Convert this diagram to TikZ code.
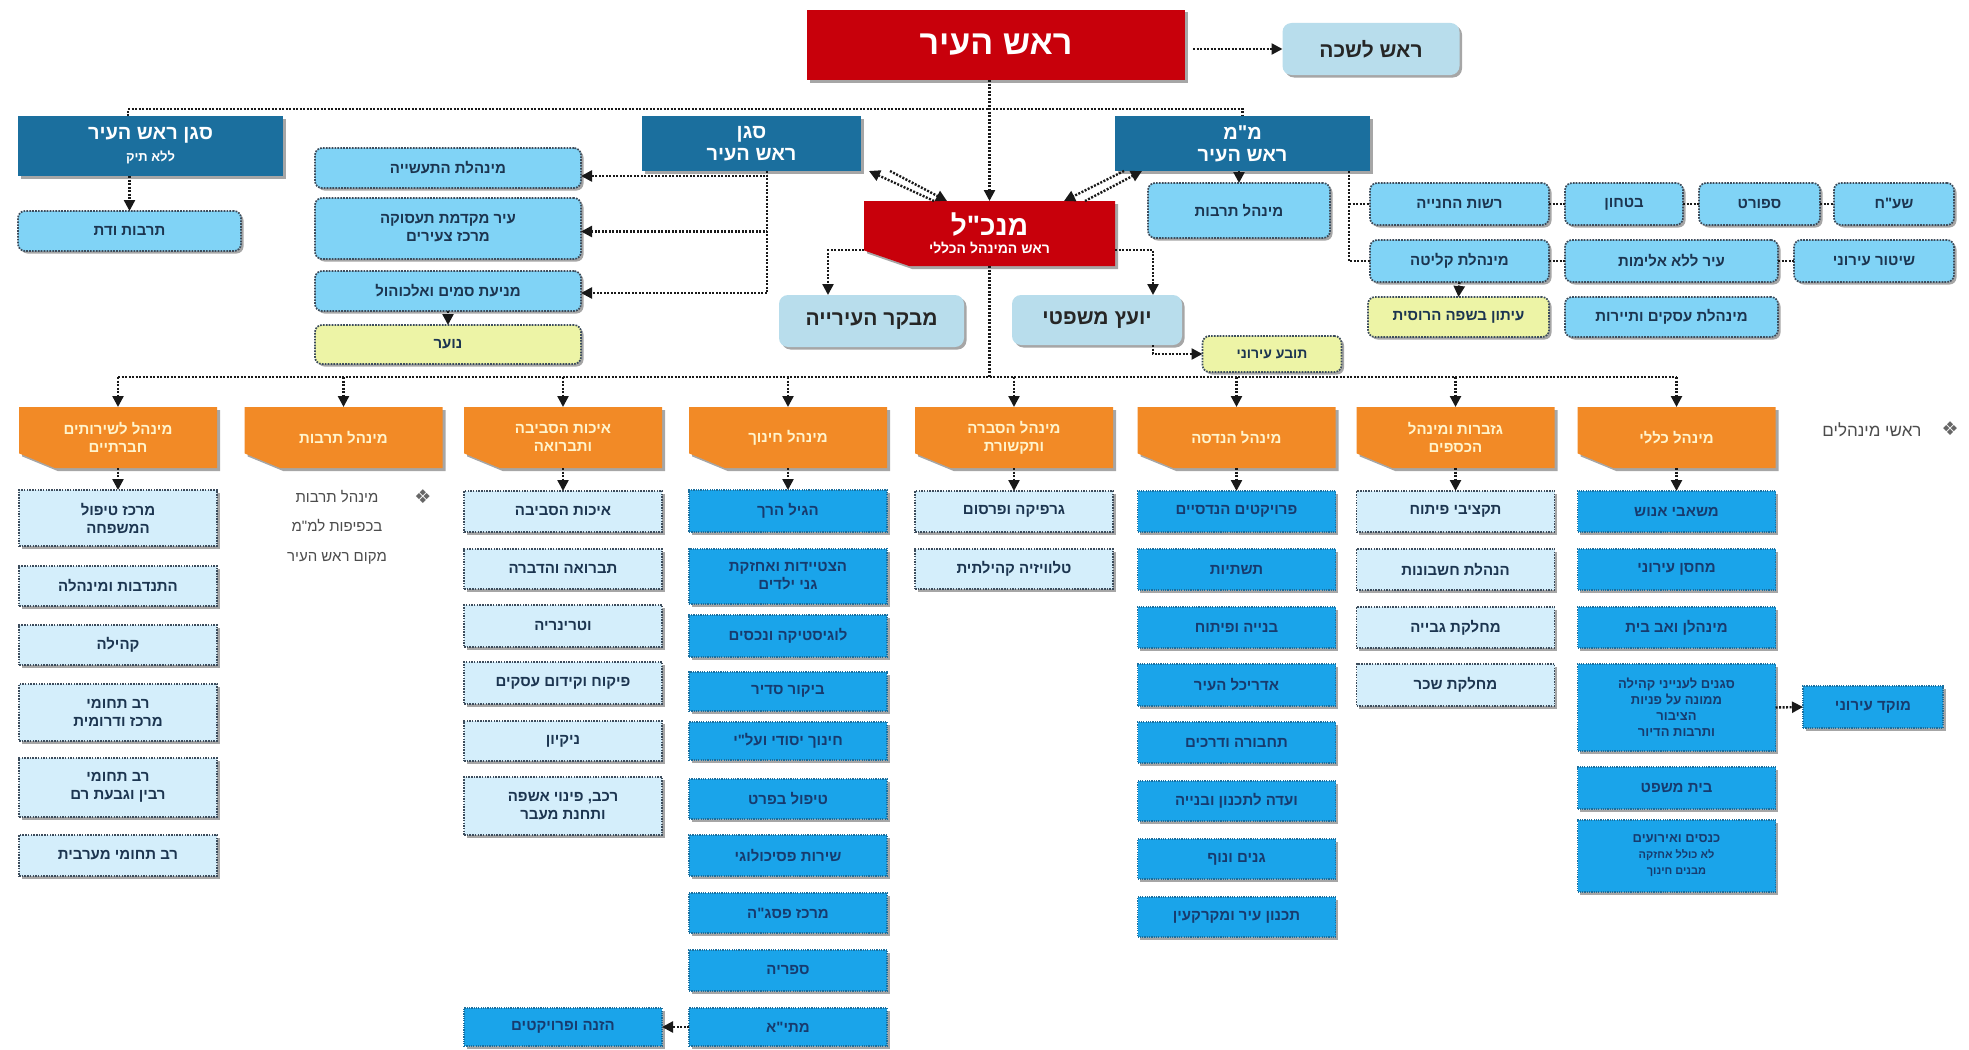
\documentclass[tikz,border=0pt]{standalone}
\usepackage{fontspec}
\newfontfamily\hebfont[Script=Hebrew]{Liberation Sans}
\newfontfamily\symfont{DejaVu Sans}
\TeXXeTstate=1
\usetikzlibrary{arrows.meta,shadows}
\definecolor{cRed}{HTML}{C8000B}
\definecolor{cDk}{HTML}{1B6F9E}
\definecolor{cSky}{HTML}{80D3F6}
\definecolor{cPale}{HTML}{D4EEFB}
\definecolor{cBright}{HTML}{1AA4EA}
\definecolor{cGB}{HTML}{B8DDEC}
\definecolor{cYel}{HTML}{EDF4A6}
\definecolor{cOr}{HTML}{F28A26}
\definecolor{cText}{HTML}{1C3550}
\definecolor{cNavy}{HTML}{173B6E}
\definecolor{cBorder}{HTML}{3C4C5C}
\definecolor{cCream}{HTML}{FFF4CC}
\newcommand\hb[1]{\beginR #1\endR}
\newcommand\fs[2]{\fontsize{#1}{#2}\selectfont}
\tikzset{
 base/.style={align=center, inner sep=2pt, outer sep=0pt, font=\hebfont\bfseries\fs{15}{18}},
 shd/.style={drop shadow={shadow xshift=2.5pt,shadow yshift=-2.5pt,fill=black,opacity=0.35}},
 sky/.style={base, shd, fill=cSky, draw=cBorder, line width=1.7pt, dash pattern=on 1.7pt off 1.2pt, rounded corners=7pt, text=cText},
 ylw/.style={sky, fill=cYel},
 pale/.style={base, shd, fill=cPale, draw=cBorder, line width=1.5pt, dash pattern=on 1.5pt off 1.2pt, text=cText},
 bright/.style={base, shd, fill=cBright, draw=cDk, line width=1.2pt, dash pattern=on 1.2pt off 1.1pt, text=cNavy},
 gb/.style={base, shd, fill=cGB, rounded corners=9pt, text=black!85, font=\hebfont\bfseries\fs{21}{25}},
 dkb/.style={base, shd, fill=cDk, text=white, font=\hebfont\bfseries\fs{20}{22}},
 redt/.style={base, text=white},
 ort/.style={base, text=cCream},
 dl/.style={line width=2.4pt, dash pattern=on 2pt off 1.5pt, draw=black!90},
 arr/.style={dl, -{Triangle[length=11pt,width=11pt]}},
 notetxt/.style={align=center, font=\hebfont\fs{15}{29.5}, text=black!70},
 bul/.style={font=\symfont\fs{19}{20}, text=black!60},
}
% name, cx, cy, w, h, fill, text style, text
\newcommand\cutbox[8]{%
 \fill[black,opacity=0.35] ({#2-#4/2+3},{#3-#5/2+3}) -- ({#2+#4/2+3},{#3-#5/2+3}) -- ({#2+#4/2+3},{#3+#5/2+3}) -- ({#2-#4/2+0.18*#4+3},{#3+#5/2+3}) -- ({#2-#4/2+3},{#3+#5/2-0.24*#5+3}) -- cycle;
 \fill[#6] ({#2-#4/2},{#3-#5/2}) -- ({#2+#4/2},{#3-#5/2}) -- ({#2+#4/2},{#3+#5/2}) -- ({#2-#4/2+0.18*#4},{#3+#5/2}) -- ({#2-#4/2},{#3+#5/2-0.24*#5}) -- cycle;
 \node[#7, minimum width=#4pt, minimum height=#5pt] (#1) at (#2,#3) {#8};}
% style, name, cx, top, bottom, text
\newcommand\subb[6]{\node[#1, minimum width=198pt, minimum height={#5pt-#4pt}] (#2) at (#3,{(#4+#5)/2}) {#6};}
\begin{document}
\begin{tikzpicture}[x=1pt,y=-1pt]
\fill[white] (0,0) rectangle (1969,1049);
\useasboundingbox (0,0) rectangle (1969,1049);

% ---------- top level ----------
\node[redt, shd, fill=cRed, minimum width=378pt, minimum height=70pt, font=\hebfont\bfseries\fs{34}{38}] (mayor) at (996,45) {\hb{ראש העיר}};
\node[gb, minimum width=177pt, minimum height=52pt] (lishka) at (1371,49) {\hb{ראש לשכה}};
\draw[arr] ([xshift=8pt]mayor.east |- lishka.west) -- (lishka.west);

\node[dkb, minimum width=265pt, minimum height=60pt] (sganL) at (150.5,146) {{\fs{20}{22}\hb{סגן ראש העיר}}\\{\fs{13}{16}\hb{ללא תיק}}};
\node[dkb, minimum width=219pt, minimum height=55pt] (sganM) at (751.5,143.5) {\hb{סגן}\\\hb{ראש העיר}};
\node[dkb, minimum width=255pt, minimum height=55pt] (mm) at (1242.5,143.5) {\hb{מ"מ}\\\hb{ראש העיר}};

\cutbox{mankal}{989.5}{233.5}{251}{65}{cRed}{redt}{{\fs{28}{30}\hb{מנכ"ל}}\\{\fs{14}{17}\hb{ראש המינהל הכללי}}}

\coordinate (tb) at (0,109);
\draw[dl] ([xshift=-22.5pt]sganL.north) -- ([xshift=-22.5pt]sganL.north |- tb) -- (mm.north |- tb) -- (mm.north);
\draw[arr] (mayor.south -| mankal.north) -- (mankal.north);

% left deputy
\node[sky, minimum width=223pt, minimum height=40pt] (tdat) at (129.5,231) {\hb{תרבות ודת}};
\draw[arr] (sganL.south -| tdat.north) -- (tdat.north);

% middle deputy column
\node[sky, minimum width=266pt, minimum height=40pt] (ind) at (448,168) {\hb{מינהלת התעשייה}};
\node[sky, minimum width=266pt, minimum height=61pt] (emp) at (448,228.5) {\hb{עיר מקדמת תעסוקה}\\\hb{מרכז צעירים}};
\node[sky, minimum width=266pt, minimum height=40pt] (drugs) at (448,291) {\hb{מניעת סמים ואלכוהול}};
\node[ylw, minimum width=266pt, minimum height=39pt] (youth) at (448,344.5) {\hb{נוער}};
\coordinate (sgv) at (767,171);
\draw[arr] (sgv) |- ([yshift=-8pt]ind.east);
\draw[arr] (sgv) |- ([yshift=-3pt]emp.east);
\draw[arr] (sgv) |- ([yshift=-2pt]drugs.east);
\draw[arr] (drugs.south) -- (youth.north);

% diagonal arrows
\coordinate (s1) at (934,201); \coordinate (s2) at (869,171);
\coordinate (s3) at (890,171); \coordinate (s4) at (947,201);
\draw[arr] (s1) -- (s2); \draw[arr] (s3) -- (s4);
\coordinate (m1) at (1085,201); \coordinate (m2) at (1142,171);
\coordinate (m3) at (1124,171); \coordinate (m4) at (1064,201);
\draw[arr] (m1) -- (m2); \draw[arr] (m3) -- (m4);

% mm side
\node[sky, minimum width=182pt, minimum height=55pt] (mtarbut) at (1239,210.5) {\hb{מינהל תרבות}};
\draw[arr] (mm.south -| mtarbut.north) -- (mtarbut.north);

\node[sky, minimum width=179pt, minimum height=42pt] (reshut) at (1459.5,204) {\hb{רשות החנייה}};
\node[sky, minimum width=118pt, minimum height=42pt] (bitachon) at (1624,204) {\hb{בטחון}};
\node[sky, minimum width=121pt, minimum height=42pt] (sport) at (1759.5,204) {\hb{ספורט}};
\node[sky, minimum width=120pt, minimum height=42pt] (shaach) at (1894,204) {\hb{שע"ח}};
\node[sky, minimum width=179pt, minimum height=42pt] (klita) at (1459.5,261) {\hb{מינהלת קליטה}};
\node[sky, minimum width=213pt, minimum height=42pt] (alimut) at (1671.5,261) {\hb{עיר ללא אלימות}};
\node[sky, minimum width=160pt, minimum height=42pt] (shitur) at (1874,261) {\hb{שיטור עירוני}};
\node[ylw, minimum width=181pt, minimum height=40pt] (iton) at (1458.5,317) {\hb{עיתון בשפה הרוסית}};
\node[sky, minimum width=213pt, minimum height=40pt] (asakim) at (1671.5,317) {\hb{מינהלת עסקים ותיירות}};
\coordinate (mmv) at (1349,171);
\draw[dl] (mmv) |- (klita.west);
\draw[dl] (mmv |- reshut.west) -- (reshut.west);
\draw[dl] (reshut.east) -- (bitachon.west);
\draw[dl] (bitachon.east) -- (sport.west);
\draw[dl] (sport.east) -- (shaach.west);
\draw[dl] (klita.east) -- (alimut.west);
\draw[dl] (alimut.east) -- (shitur.west);
\draw[arr] (klita.south) -- (iton.north);

% auditor, legal
\node[gb, minimum width=185pt, minimum height=52pt] (mevaker) at (871.5,321) {\hb{מבקר העירייה}};
\node[gb, minimum width=170pt, minimum height=50pt] (yoetz) at (1097,320) {\hb{יועץ משפטי}};
\node[ylw, minimum width=139pt, minimum height=36pt, font=\hebfont\bfseries\fs{14}{17}] (toveia) at (1272,354) {\hb{תובע עירוני}};
\draw[arr] (mankal.west |- 0,250) -| ([xshift=-43.5pt]mevaker.north);
\draw[arr] (mankal.east |- 0,250) -| ([xshift=56pt]yoetz.north);
\draw[arr] ([xshift=56pt]yoetz.south) |- (toveia.west);

% ---------- directorates ----------
\cutbox{o1}{118}{437.5}{198}{61}{cOr}{ort}{\hb{מינהל לשירותים}\\\hb{חברתיים}}
\cutbox{o2}{343.5}{437.5}{198}{61}{cOr}{ort}{\hb{מינהל תרבות}}
\cutbox{o3}{563}{437.5}{198}{61}{cOr}{ort}{\hb{איכות הסביבה}\\\hb{ותברואה}}
\cutbox{o4}{788}{437.5}{198}{61}{cOr}{ort}{\hb{מינהל חינוך}}
\cutbox{o5}{1014}{437.5}{198}{61}{cOr}{ort}{\hb{מינהל הסברה}\\\hb{ותקשורת}}
\cutbox{o6}{1236.5}{437.5}{198}{61}{cOr}{ort}{\hb{מינהל הנדסה}}
\cutbox{o7}{1455.5}{437.5}{198}{61}{cOr}{ort}{\hb{גזברות ומינהל}\\\hb{הכספים}}
\cutbox{o8}{1676.5}{437.5}{198}{61}{cOr}{ort}{\hb{מינהל כללי}}

\coordinate (bb) at (0,377);
\draw[dl] (mankal.south) -- (mankal.south |- bb);
\draw[dl] (o1.north |- bb) -- (o8.north |- bb);
\foreach \i in {1,...,8} \draw[arr] (o\i.north |- bb) -- (o\i.north);

\node[anchor=east, font=\hebfont\fs{17}{20}, text=black!70] (rashei) at (1925,430) {\hb{ראשי מינהלים}};
\node[bul] (bul1) at (1950,429) {❖};

% column 1
\subb{pale}{a1}{118}{490}{546}{\hb{מרכז טיפול}\\\hb{המשפחה}}
\subb{pale}{a2}{118}{566}{606}{\hb{התנדבות ומינהלה}}
\subb{pale}{a3}{118}{625}{665}{\hb{קהילה}}
\subb{pale}{a4}{118}{684}{741}{\hb{רב תחומי}\\\hb{מרכז ודרומית}}
\subb{pale}{a5}{118}{758}{817}{\hb{רב תחומי}\\\hb{רבין וגבעת רם}}
\subb{pale}{a6}{118}{835}{876}{\hb{רב תחומי מערבית}}
\draw[arr] (o1.south) -- (a1.north);

% column 2 note
\node[notetxt] (o2note) at (337,527) {\hb{מינהל תרבות}\\\hb{בכפיפות למ"מ}\\\hb{מקום ראש העיר}};
\node[bul] (bul2) at (423,497) {❖};

% column 3
\subb{pale}{c1}{563}{491}{532}{\hb{איכות הסביבה}}
\subb{pale}{c2}{563}{549}{589}{\hb{תברואה והדברה}}
\subb{pale}{c3}{563}{605}{647}{\hb{וטרינריה}}
\subb{pale}{c4}{563}{662}{704}{\hb{פיקוח וקידום עסקים}}
\subb{pale}{c5}{563}{721}{761}{\hb{ניקיון}}
\subb{pale}{c6}{563}{777}{835}{\hb{רכב, פינוי אשפה}\\\hb{ותחנת מעבר}}
\subb{bright}{hazana}{563}{1008}{1046}{\hb{הזנה ופרויקטים}}
\draw[arr] (o3.south) -- (c1.north);

% column 4
\subb{bright}{d1}{788}{490}{532}{\hb{הגיל הרך}}
\subb{bright}{d2}{788}{549}{604}{\hb{הצטיידות ואחזקת}\\\hb{גני ילדים}}
\subb{bright}{d3}{788}{615}{657}{\hb{לוגיסטיקה ונכסים}}
\subb{bright}{d4}{788}{672}{711}{\hb{ביקור סדיר}}
\subb{bright}{d5}{788}{722}{760}{\hb{חינוך יסודי ועל"י}}
\subb{bright}{d6}{788}{779}{819}{\hb{טיפול בפרט}}
\subb{bright}{d7}{788}{835}{876}{\hb{שירות פסיכולוגי}}
\subb{bright}{d8}{788}{893}{933}{\hb{מרכז פסג"ה}}
\subb{bright}{d9}{788}{950}{991}{\hb{ספריה}}
\subb{bright}{d10}{788}{1008}{1046}{\hb{מתי"א}}
\draw[arr] (o4.south) -- (d1.north);
\draw[arr] (d10.west) -- (hazana.east);

% column 5
\subb{pale}{e1}{1014}{491}{532}{\hb{גרפיקה ופרסום}}
\subb{pale}{e2}{1014}{549}{589}{\hb{טלוויזיה קהילתית}}
\draw[arr] (o5.south) -- (e1.north);

% column 6
\subb{bright}{f1}{1236.5}{491}{532}{\hb{פרויקטים הנדסיים}}
\subb{bright}{f2}{1236.5}{549}{590}{\hb{תשתיות}}
\subb{bright}{f3}{1236.5}{607}{648}{\hb{בנייה ופיתוח}}
\subb{bright}{f4}{1236.5}{664}{706}{\hb{אדריכל העיר}}
\subb{bright}{f5}{1236.5}{722}{763}{\hb{תחבורה ודרכים}}
\subb{bright}{f6}{1236.5}{781}{821}{\hb{ועדה לתכנון ובנייה}}
\subb{bright}{f7}{1236.5}{839}{879}{\hb{גנים ונוף}}
\subb{bright}{f8}{1236.5}{897}{937}{\hb{תכנון עיר ומקרקעין}}
\draw[arr] (o6.south) -- (f1.north);

% column 7
\subb{pale}{g1}{1455.5}{491}{532}{\hb{תקציבי פיתוח}}
\subb{pale}{g2}{1455.5}{549}{590}{\hb{הנהלת חשבונות}}
\subb{pale}{g3}{1455.5}{607}{648}{\hb{מחלקת גבייה}}
\subb{pale}{g4}{1455.5}{664}{706}{\hb{מחלקת שכר}}
\draw[arr] (o7.south) -- (g1.north);

% column 8
\subb{bright}{h1}{1676.5}{491}{532}{\hb{משאבי אנוש}}
\subb{bright}{h2}{1676.5}{549}{590}{\hb{מחסן עירוני}}
\subb{bright}{h3}{1676.5}{607}{648}{\hb{מינהלן ואב בית}}
\node[bright, minimum width=198pt, minimum height=87pt, font=\hebfont\bfseries\fs{13}{16}] (h4) at (1676.5,707.5) {\hb{סגנים לענייני קהילה}\\\hb{ממונה על פניות}\\\hb{הציבור}\\\hb{ותרבות הדיור}};
\subb{bright}{h5}{1676.5}{767}{809}{\hb{בית משפט}}
\node[bright, minimum width=198pt, minimum height=72pt, font=\hebfont\bfseries\fs{13}{16}] (h6) at (1676.5,856) {\hb{כנסים ואירועים}\\{\fs{11}{14}\hb{לא כולל אחזקה}}\\{\fs{11}{14}\hb{מבנים חינוך}}};
\node[bright, minimum width=140pt, minimum height=42pt] (mokad) at (1873,707) {\hb{מוקד עירוני}};
\draw[arr] (o8.south) -- (h1.north);
\draw[arr] (h4.east) -- (mokad.west);
\end{tikzpicture}
\end{document}
